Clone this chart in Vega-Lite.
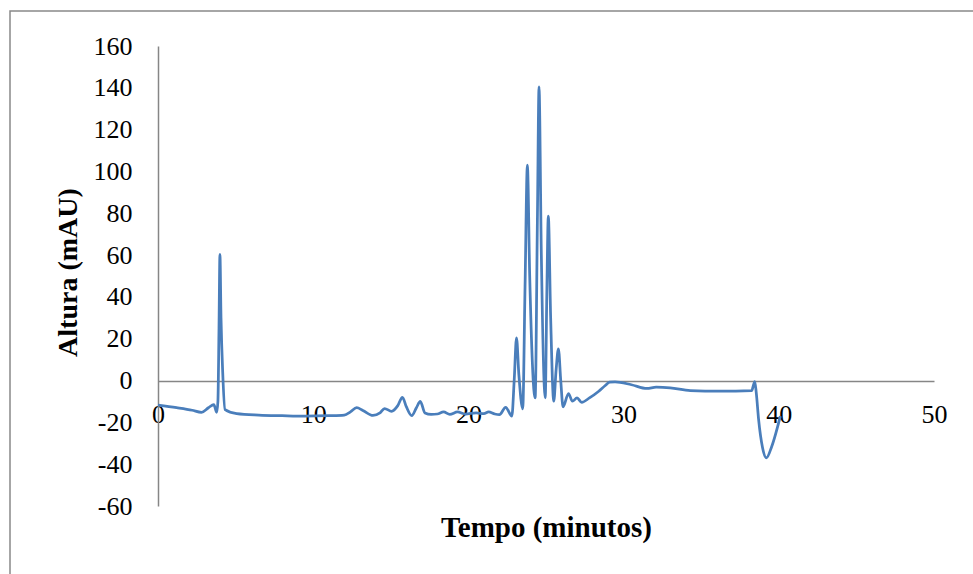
{
  "$schema": "https://vega.github.io/schema/vega-lite/v6.json",
  "width": 980,
  "height": 580,
  "autosize": {"type": "none"},
  "padding": {"left": 10, "top": 11, "right": 0, "bottom": 0},
  "background": "white",
  "config": {
    "view": {"stroke": "#898989", "strokeWidth": 1.5},
    "font": "Liberation Serif"
  },
  "data": {
    "values": [
      {"t": 0, "mAU": -11.8},
      {"t": 1.2, "mAU": -13},
      {"t": 2.2, "mAU": -14.2},
      {"t": 2.8, "mAU": -15.2},
      {"t": 3.25, "mAU": -13},
      {"t": 3.6, "mAU": -11.5},
      {"t": 3.78, "mAU": -15.2},
      {"t": 3.86, "mAU": -10},
      {"t": 3.93, "mAU": 25},
      {"t": 3.99, "mAU": 60.3},
      {"t": 4.06, "mAU": 30},
      {"t": 4.17, "mAU": 3.8},
      {"t": 4.32, "mAU": -13.9},
      {"t": 5.07, "mAU": -15.8},
      {"t": 6.5, "mAU": -16.5},
      {"t": 8, "mAU": -16.8},
      {"t": 9.5, "mAU": -17},
      {"t": 11, "mAU": -16.8},
      {"t": 12.0, "mAU": -16.5},
      {"t": 12.4, "mAU": -15},
      {"t": 12.8, "mAU": -13},
      {"t": 13.2, "mAU": -14.3},
      {"t": 13.85, "mAU": -16.7},
      {"t": 14.3, "mAU": -15.5},
      {"t": 14.6, "mAU": -13.4},
      {"t": 15.05, "mAU": -14.7},
      {"t": 15.45, "mAU": -12},
      {"t": 15.75, "mAU": -8},
      {"t": 16.0, "mAU": -12.5},
      {"t": 16.35, "mAU": -16.8},
      {"t": 16.65, "mAU": -13},
      {"t": 16.9, "mAU": -10},
      {"t": 17.2, "mAU": -15.5},
      {"t": 17.6, "mAU": -16.2},
      {"t": 18.0, "mAU": -16},
      {"t": 18.4, "mAU": -15},
      {"t": 18.8, "mAU": -16.2},
      {"t": 19.3, "mAU": -15},
      {"t": 19.8, "mAU": -16},
      {"t": 20.5, "mAU": -15.5},
      {"t": 21.0, "mAU": -15.8},
      {"t": 21.3, "mAU": -15},
      {"t": 21.7, "mAU": -16},
      {"t": 22.0, "mAU": -16.3},
      {"t": 22.4, "mAU": -12.8},
      {"t": 22.8, "mAU": -17},
      {"t": 22.95, "mAU": 0},
      {"t": 23.1, "mAU": 20.4},
      {"t": 23.25, "mAU": 3},
      {"t": 23.5, "mAU": -13.5},
      {"t": 23.65, "mAU": 45},
      {"t": 23.8, "mAU": 103},
      {"t": 23.95, "mAU": 50},
      {"t": 24.3, "mAU": -8.3},
      {"t": 24.45, "mAU": 80},
      {"t": 24.55, "mAU": 140.5},
      {"t": 24.7, "mAU": 60},
      {"t": 24.95, "mAU": -8.3},
      {"t": 25.05, "mAU": 40},
      {"t": 25.15, "mAU": 78.6},
      {"t": 25.3, "mAU": 30},
      {"t": 25.5, "mAU": -9.9},
      {"t": 25.65, "mAU": 5},
      {"t": 25.8, "mAU": 15.2},
      {"t": 25.95, "mAU": 0},
      {"t": 26.1, "mAU": -12.6},
      {"t": 26.45, "mAU": -6.2},
      {"t": 26.7, "mAU": -9.9},
      {"t": 27.0, "mAU": -8.3},
      {"t": 27.3, "mAU": -10.4},
      {"t": 27.8, "mAU": -8.3},
      {"t": 28.4, "mAU": -5.1},
      {"t": 28.8, "mAU": -2.5},
      {"t": 29.1, "mAU": -0.8},
      {"t": 29.45, "mAU": -0.6},
      {"t": 30.5, "mAU": -2},
      {"t": 31.5, "mAU": -3.8},
      {"t": 32.1, "mAU": -3.2},
      {"t": 33, "mAU": -3.5},
      {"t": 34.3, "mAU": -4.8},
      {"t": 36.2, "mAU": -5.1},
      {"t": 38.25, "mAU": -4.8},
      {"t": 38.45, "mAU": -0.5},
      {"t": 38.55, "mAU": -6},
      {"t": 38.7, "mAU": -18.7},
      {"t": 38.95, "mAU": -32},
      {"t": 39.2, "mAU": -37},
      {"t": 39.55, "mAU": -31.4},
      {"t": 40.1, "mAU": -17}
    ]
  },
  "mark": {"type": "line", "color": "#4A7EBB", "strokeWidth": 2.75, "interpolate": "monotone"},
  "encoding": {
    "x": {
      "field": "t",
      "type": "quantitative",
      "scale": {"domain": [0, 50], "range": [148, 924], "nice": false, "zero": false},
      "axis": {
        "values": [0, 10, 20, 30, 40, 50],
        "offset": -210,
        "grid": false,
        "ticks": false,
        "tickSize": 0,
        "domainColor": "#868686",
        "domainWidth": 1.5,
        "labelFont": "Liberation Serif",
        "labelFontSize": 26,
        "labelColor": "#000000",
        "labelPadding": 33,
        "labelBaseline": "middle",
        "labelFlush": false,
        "labelOverlap": false,
        "labelExpr": "datum.value + ''",
        "title": "Tempo (minutos)",
        "titleFont": "Liberation Serif",
        "titleFontSize": 29,
        "titleFontWeight": "bold",
        "titleColor": "#000000",
        "titleX": 536,
        "titleY": 146,
        "titleAlign": "center",
        "titleBaseline": "middle"
      }
    },
    "y": {
      "field": "mAU",
      "type": "quantitative",
      "scale": {"domain": [-60, 160], "range": [495, 35], "nice": false, "zero": false},
      "axis": {
        "values": [-60, -40, -20, 0, 20, 40, 60, 80, 100, 120, 140, 160],
        "offset": -148,
        "grid": false,
        "ticks": false,
        "tickSize": 0,
        "domainColor": "#868686",
        "domainWidth": 1.5,
        "labelFont": "Liberation Serif",
        "labelFontSize": 26,
        "labelColor": "#000000",
        "labelPadding": 26,
        "labelFlush": false,
        "labelOverlap": false,
        "labelExpr": "datum.value + ''",
        "title": "Altura (mAU)",
        "titleFont": "Liberation Serif",
        "titleFontSize": 28,
        "titleFontWeight": "bold",
        "titleColor": "#000000",
        "titleAngle": 270,
        "titleX": -90,
        "titleY": 261,
        "titleAlign": "center",
        "titleBaseline": "middle"
      }
    }
  }
}
